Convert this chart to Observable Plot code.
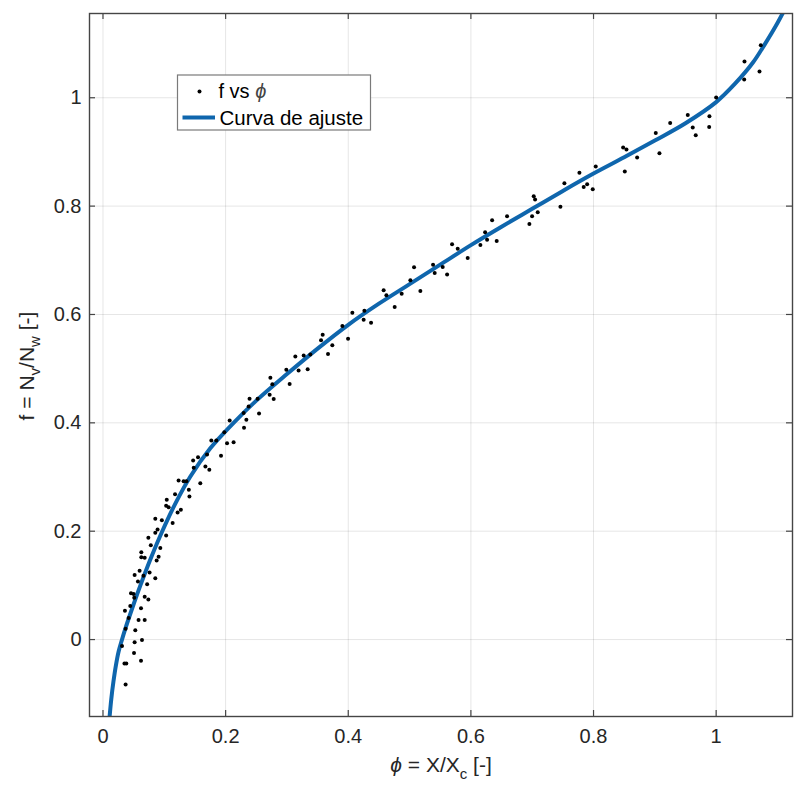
<!DOCTYPE html>
<html><head><meta charset="utf-8">
<script src="https://cdn.jsdelivr.net/npm/d3@7"></script>
<script src="https://cdn.jsdelivr.net/npm/@observablehq/plot@0.6"></script>
<style>
body{margin:0;background:#fff;}
#chart{position:relative;width:800px;height:792px;}
</style></head><body><div id="chart"></div>
<script>
// Measured data: f vs phi
const phiData = [
0.0369,0.035,0.038,0.031,0.0506,0.062,0.0516,0.0636,0.0369,0.0527,
0.0418,0.058,0.068,0.0358,0.0445,0.062,0.0457,0.050,0.051,0.068,
0.074,0.057,0.0516,0.0597,0.066,0.072,0.076,0.0853,0.0625,0.0625,
0.068,0.078,0.074,0.0875,0.0907,0.0935,0.0853,0.089,0.0853,0.096,
0.103,0.104,0.103,0.107,0.1136,0.1175,0.1217,0.127,0.1233,0.1315,
0.136,0.141,0.140,0.147,0.148,0.155,0.1587,0.167,0.1734,0.1697,
0.1767,0.1848,0.1925,0.1979,0.2023,0.2066,0.213,0.230,0.2338,0.2294,
0.2375,0.239,0.2545,0.2522,
0.273,0.2762,0.2718,0.2784,0.299,0.3044,0.3137,0.319,0.3273,0.3338,
0.3382,0.3556,0.3583,0.367,0.374,0.3904,0.3997,0.4067,0.4263,0.4251,
0.4372,0.4577,0.4622,0.4757,0.4871,0.5013,0.5073,0.5176,0.5383,0.541,
0.554,0.5612,0.5693,0.5785,
0.5948,0.6155,0.6232,0.6264,0.6346,0.6421,0.659,0.6954,0.6998,0.7025,
0.7047,0.709,0.746,0.7525,0.777,0.784,0.7896,0.7987,0.8036,0.8483,
0.8537,0.851,0.8711,0.9015,0.9075,0.9667,
0.925,0.9537,0.9618,0.989,0.9886,1.0,1.0462,1.0457,1.0707,1.0728
];
const fData = [
-0.083,-0.044,-0.044,-0.012,-0.025,-0.039,-0.005,-0.001,0.020,0.017,
0.040,0.036,0.036,0.053,0.062,0.058,0.0855,0.084,0.077,0.079,
0.074,0.107,0.119,0.127,0.118,0.102,0.124,0.113,0.161,0.152,
0.151,0.174,0.188,0.146,0.153,0.169,0.223,0.203,0.197,0.220,
0.192,0.258,0.247,0.244,0.215,0.268,0.2345,0.2395,0.2936,0.2923,
0.2923,0.264,0.2765,0.3306,0.317,0.3367,0.2887,0.3195,0.3134,0.3416,
0.3675,0.3675,0.3392,0.3828,0.3625,0.4044,0.3644,0.391,0.4057,0.418,
0.430,0.4445,0.4174,0.4445,
0.4833,0.471,0.452,0.4438,0.498,0.4715,0.5226,0.4968,0.5245,0.499,
0.5263,0.5522,0.5627,0.527,0.543,0.5786,0.5553,0.6033,0.607,0.5904,
0.5849,0.6445,0.6353,0.6137,0.6384,0.663,0.687,0.6432,0.692,0.6765,
0.6876,0.674,0.7295,0.7215,
0.7042,0.7282,0.7516,0.7381,0.7738,0.7356,0.7812,0.767,0.7812,0.8181,
0.812,0.7886,0.799,0.8421,0.8618,0.8353,0.8403,0.831,0.873,0.908,
0.9043,0.8637,0.8896,0.935,0.8975,0.9307,
0.9535,0.9683,0.945,0.9658,0.946,1.0004,1.0668,1.0336,1.0484,1.097
];
// Fitted curve
const fitPhi = [0.008,0.0108,0.0135,0.017,0.021,0.0255,0.031,0.037,0.045,0.053,0.061,0.078,0.0963,0.118,0.1425,0.175,0.213,0.25,0.30,0.35,0.40,0.45,0.50,0.55,0.60,0.65,0.70,0.75,0.80,0.85,0.90,0.95,1.00,1.03,1.06,1.08,1.10,1.115];
const fitF   = [-0.178,-0.142,-0.110,-0.078,-0.048,-0.022,0.0,0.022,0.049,0.075,0.1,0.150,0.199,0.251,0.301,0.353,0.4,0.441,0.49,0.537,0.581,0.62,0.656,0.692,0.728,0.762,0.795,0.828,0.86,0.89,0.921,0.953,0.992,1.025,1.065,1.10,1.138,1.17];

const xTicks = [0,0.2,0.4,0.6,0.8,1];
const xTickLabels = ["0","0.2","0.4","0.6","0.8","1"];
const yTicks = [0,0.2,0.4,0.6,0.8,1];
const yTickLabels = ["0","0.2","0.4","0.6","0.8","1"];

const points = phiData.map((p,i)=>({phi:p,f:fData[i]}));
const fit = fitPhi.map((p,i)=>({phi:p,f:fitF[i]}));

const W=800,H=792,mL=89,mR=8,mT=13,mB=76;
const innerW=W-mL-mR, innerH=H-mT-mB;
const axisColor="#454545";
const blue="#0f66ad";
const font="'Liberation Sans', Arial, Helvetica, sans-serif";

const chart = Plot.plot({
  width:W, height:H, marginLeft:mL, marginRight:mR, marginTop:mT, marginBottom:mB,
  style:{fontFamily:font, fontSize:"20px", color:"#262626", background:"#fff"},
  x:{domain:[-0.022,1.1245]},
  y:{domain:[-0.142,1.1555]},
  marks:[
    Plot.gridX(xTicks,{stroke:"#000",strokeOpacity:0.1,strokeWidth:1}),
    Plot.gridY(yTicks,{stroke:"#000",strokeOpacity:0.1,strokeWidth:1}),
    Plot.line(fit,{x:"phi",y:"f",stroke:blue,strokeWidth:4,curve:"catmull-rom",clip:true}),
    Plot.dot(points,{x:"phi",y:"f",r:2,fill:"#000",stroke:null}),
    Plot.tickX(xTicks,{x:d=>d,insetTop:innerH-6,stroke:axisColor,strokeWidth:1.2}),
    Plot.tickX(xTicks,{x:d=>d,insetBottom:innerH-6,stroke:axisColor,strokeWidth:1.2}),
    Plot.tickY(yTicks,{y:d=>d,insetRight:innerW-6,stroke:axisColor,strokeWidth:1.2}),
    Plot.tickY(yTicks,{y:d=>d,insetLeft:innerW-6,stroke:axisColor,strokeWidth:1.2}),
    Plot.frame({stroke:axisColor,strokeWidth:1.4}),
    Plot.axisX({ticks:xTicks,tickSize:0,tickPadding:12,tickFormat:d=>xTickLabels[xTicks.indexOf(d)],label:null}),
    Plot.axisY({ticks:yTicks,tickSize:0,tickPadding:8,tickFormat:d=>yTickLabels[yTicks.indexOf(d)],label:null})
  ]
});
document.getElementById("chart").appendChild(chart);

const svg = d3.select(chart);
// X label
const xl = svg.append("text").attr("x",441).attr("y",771.5).attr("text-anchor","middle")
  .attr("font-family",font).attr("font-size",21).attr("fill","#262626");
xl.append("tspan").attr("font-style","italic").text("ϕ");
xl.append("tspan").text(" = X/X");
xl.append("tspan").attr("font-size",15).attr("dy",7).text("c");
xl.append("tspan").attr("dy",-7).text(" [-]");
// Y label
const yl = svg.append("text").attr("transform","translate(34,366) rotate(-90)").attr("text-anchor","middle")
  .attr("font-family",font).attr("font-size",21).attr("fill","#262626");
yl.append("tspan").text("f = N");
yl.append("tspan").attr("font-size",15).attr("dy",6).text("v");
yl.append("tspan").attr("dy",-6).text("/N");
yl.append("tspan").attr("font-size",15).attr("dy",6).text("w");
yl.append("tspan").attr("dy",-6).text(" [-]");
// Legend
const lg = svg.append("g").attr("text-anchor","start");
lg.append("rect").attr("x",177.5).attr("y",75).attr("width",193).attr("height",55)
  .attr("fill","#fff").attr("stroke","#7a7a7a").attr("stroke-width",1.2);
lg.append("circle").attr("cx",199.5).attr("cy",91.5).attr("r",2).attr("fill","#000");
const t1 = lg.append("text").attr("x",218.5).attr("y",97.5).attr("text-anchor","start").attr("font-family",font).attr("font-size",20).attr("fill","#000");
t1.append("tspan").text("f vs ");
t1.append("tspan").attr("font-style","italic").attr("fill","#444").text("ϕ");
lg.append("line").attr("x1",182.5).attr("x2",215).attr("y1",117.5).attr("y2",117.5).attr("stroke",blue).attr("stroke-width",4);
lg.append("text").attr("x",219.5).attr("y",124.5).attr("text-anchor","start").attr("font-family",font).attr("font-size",20.5).attr("fill","#000").text("Curva de ajuste");
</script></body></html>
